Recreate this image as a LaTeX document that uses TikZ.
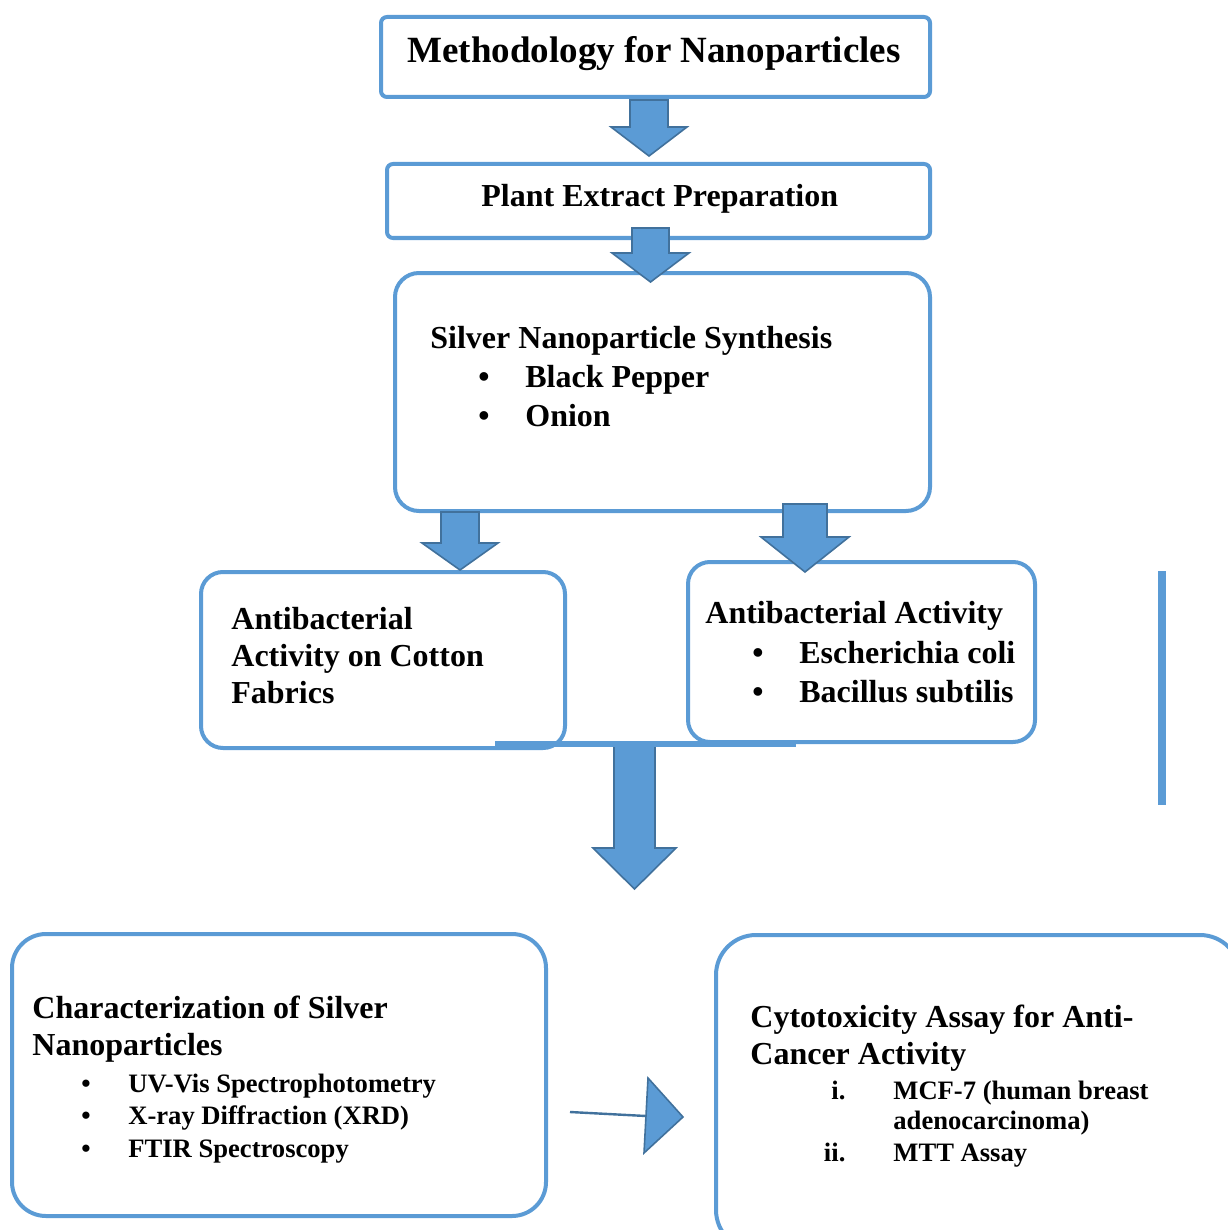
\documentclass[tikz,border=0pt]{standalone}
\usepackage{fontspec}
\setmainfont{Liberation Serif}
\usetikzlibrary{calc}
\definecolor{boxblue}{HTML}{5B9BD5}
\definecolor{edgeblue}{HTML}{41719C}
\tikzset{
  box/.style={draw=boxblue, line width=2pt, rounded corners=#1, inner sep=0pt},
  box/.default=3pt,
  blk/.style={fill=boxblue, draw=edgeblue, line width=0.8pt, line join=miter},
  txt/.style={anchor=base west, inner sep=0pt, align=left, font=\bfseries\fontsize{16}{18.5}\selectfont},
  smalltxt/.style={txt, font=\bfseries\fontsize{13.3}{16}\selectfont}
}
% down block arrow: centre x, shaft top, shaft half width, head half width, head base, tip
\newcommand{\blockdown}[6]{%
  \draw[blk] (#1-#3,#2) -- (#1+#3,#2) -- (#1+#3,#5) -- (#1+#4,#5) -- (#1,#6)
    -- (#1-#4,#5) -- (#1-#3,#5) -- cycle;}
\newcommand{\bul}{\hbox to 23.5pt{\textbullet\hss}}
\begin{document}
\begin{tikzpicture}[x=0.5pt, y=-0.5pt]
    \useasboundingbox (0,0) rectangle (1227,1230);

    % Boxes
    \node[box, minimum width=274.5pt, minimum height=40pt] (meth) at (655.5,57) {};
    \node[box, minimum width=271.5pt, minimum height=37pt] (plant) at (658.5,201) {};
    \node[box=12pt, minimum width=267.5pt, minimum height=119pt] (synth) at (662.5,392) {};
    \node[box=11pt, minimum width=182pt, minimum height=88pt] (cotton) at (383,660) {};
    \node[box=11pt, minimum width=173.5pt, minimum height=90pt] (bact) at (861.5,652) {};
    \node[box=17pt, minimum width=267pt, minimum height=141pt] (charac) at (279,1075) {};
    \node[box=20pt, minimum width=262pt, minimum height=157.5pt] (cyto) at (978,1092.5) {};

    % Texts (multi-line nodes sit on their last line)
    \node[txt, font=\bfseries\fontsize{18.5}{22}\selectfont] (methT) at (407,63) {Methodology for Nanoparticles};
    \node[txt] (plantT) at (481,206) {Plant Extract Preparation};
    \node[txt] (synthT) at (430,348) {Silver Nanoparticle Synthesis};
    \node[txt] (synthA) at (478,387) {\bul Black Pepper};
    \node[txt] (synthB) at (478,426) {\bul Onion};
    \node[txt] (cottonT) at (231,703) {Antibacterial\\Activity on Cotton\\Fabrics};
    \node[txt] (bactT) at (705,623) {Antibacterial Activity};
    \node[txt] (bactA) at (752,663) {\bul Escherichia coli};
    \node[txt] (bactB) at (752,702) {\bul Bacillus subtilis};
    \node[txt] (characT) at (32,1055) {Characterization of Silver\\Nanoparticles};
    \node[smalltxt] (characA) at (81,1092) {\hbox to 23.5pt{\textbullet\hss}UV-Vis Spectrophotometry};
    \node[smalltxt] (characB) at (81,1124) {\hbox to 23.5pt{\textbullet\hss}X-ray Diffraction (XRD)};
    \node[smalltxt] (characC) at (81,1157) {\hbox to 23.5pt{\textbullet\hss}FTIR Spectroscopy};
    \node[txt] (cytoT) at (750,1064) {Cytotoxicity Assay for Anti-\\Cancer Activity};
    \node[smalltxt] (cytoA) at (800,1099) {\hbox to 22.5pt{\hss i.}\hspace{24pt}\begin{tabular}[t]{@{}l@{}}MCF-7 (human breast\\[-0.6pt]adenocarcinoma)\end{tabular}};
    \node[smalltxt] (cytoB) at (800,1161) {\hbox to 22.5pt{\hss ii.}\hspace{24pt}MTT Assay};

    % Block arrows
    \blockdown{649}{100}{19}{38}{127}{156}
    \blockdown{650.5}{228}{18.5}{38.5}{253}{282}
    \blockdown{460}{512}{19}{38}{543}{570}
    \blockdown{805}{504}{22}{44}{537}{572}
    \blockdown{634.5}{745}{20.5}{41.5}{848}{889}

    % Joining line and side bar
    \draw[boxblue, line width=3pt] ($(cotton.south)+(112,-6)$) -- ($(bact.south)+(-65.5,0)$);
    \coordinate (barTop) at (1162,571);
    \coordinate (barBot) at (1162,805);
    \draw[boxblue, line width=4pt] (barTop) -- (barBot);

    % Small arrow to cytotoxicity box
    \coordinate (lineA) at (570,1112);
    \coordinate (lineB) at (646,1116);
    \draw[edgeblue, line width=1.2pt] (lineA) -- (lineB);
    \draw[blk] (648,1078) -- (683,1117) -- (644,1153) -- cycle;
\end{tikzpicture}
\end{document}
